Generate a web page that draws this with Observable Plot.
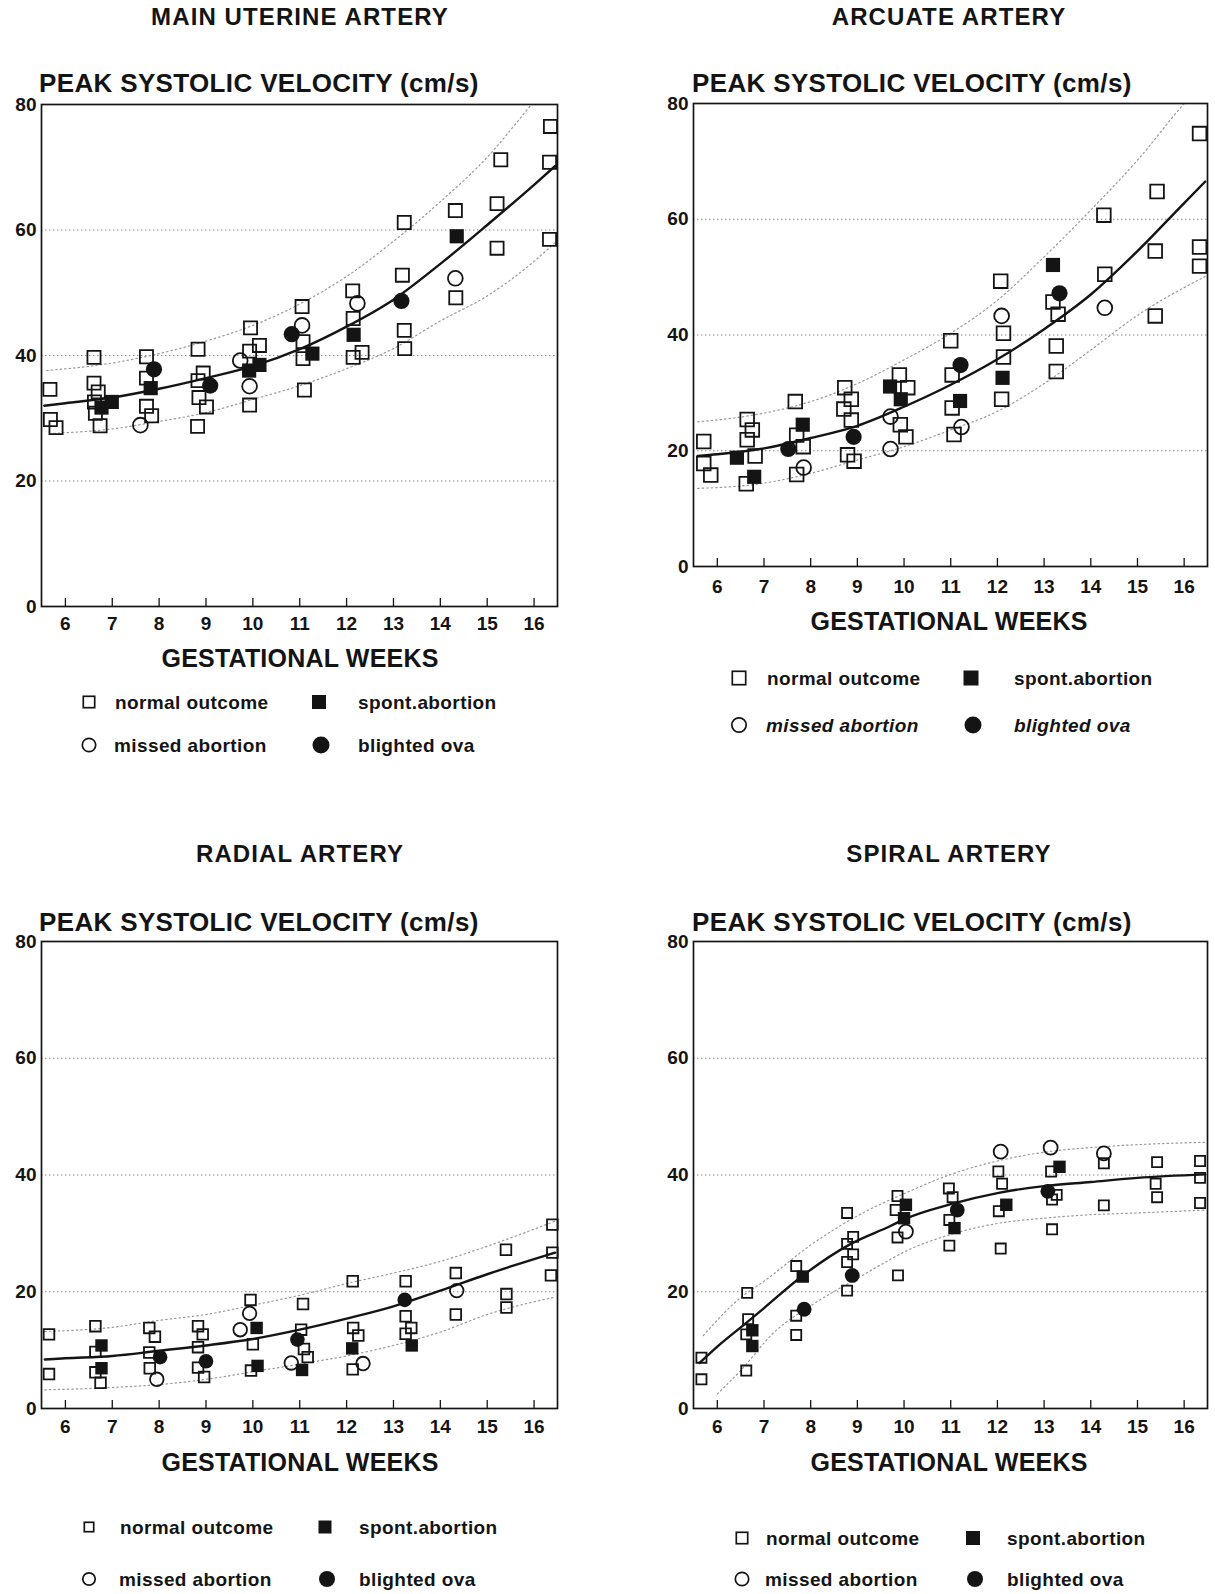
<!DOCTYPE html>
<html>
<head>
<meta charset="utf-8">
<script src="https://cdn.jsdelivr.net/npm/d3@7"></script>
<script src="https://cdn.jsdelivr.net/npm/@observablehq/plot@0.6"></script>
<style>
  html, body { margin: 0; padding: 0; background: #fff; }
  #page { position: relative; width: 1215px; height: 1594px; overflow: hidden;
          font-family: "Liberation Sans", Arial, Helvetica, sans-serif; font-weight: bold; color: #141414; }
  .t { position: absolute; white-space: nowrap; line-height: 1; }
  .c { transform: translate(-50%, -50%); }
  .l { transform: translateY(-50%); }
  .sym { position: absolute; transform: translate(-50%, -50%); }
  .plot { position: absolute; }
</style>
</head>
<body>
<div id="page"></div>
<script>
// ---------------- shared axis values ----------------
const weekTicks = [6, 7, 8, 9, 10, 11, 12, 13, 14, 15, 16];
const velocityTicks = [0, 20, 40, 60, 80];
const gridLines = [20, 40, 60];
const legendLabels = ["normal outcome", "spont.abortion", "missed abortion", "blighted ova"];
const yLabel = "PEAK SYSTOLIC VELOCITY (cm/s)";
const xLabel = "GESTATIONAL WEEKS";

// ---------------- MAIN UTERINE ARTERY ----------------
const uterineNormal = [[5.67,34.6],[5.68,29.8],[5.8,28.5],[6.61,39.7],[6.61,35.6],[6.7,34.2],[6.62,32.6],[6.64,30.8],[6.74,28.8],
  [7.73,39.8],[7.73,36.4],[7.73,31.9],[7.84,30.4],[8.83,41.0],[8.94,37.2],[8.83,36.0],[8.85,33.3],[9.01,31.8],[8.82,28.7],
  [9.95,44.4],[9.93,40.7],[10.14,41.6],[9.93,32.1],[11.05,47.8],[11.07,42.2],[11.07,39.5],[11.1,34.5],
  [12.13,50.3],[12.14,45.9],[12.14,39.7],[12.33,40.5],[13.23,61.2],[13.19,52.8],[13.23,44.0],[13.24,41.1],
  [14.32,63.1],[14.33,49.2],[15.29,71.2],[15.21,64.2],[15.21,57.1],[16.35,76.5],[16.33,70.8],[16.33,58.5]];
const uterineSpont = [[6.77,31.7],[6.99,32.6],[7.82,34.8],[9.92,37.6],[10.14,38.5],[11.27,40.3],[12.15,43.3],[14.35,59.0]];
const uterineMissed = [[7.6,28.9],[9.73,39.2],[9.93,35.1],[11.05,44.8],[12.23,48.3],[14.32,52.3]];
const uterineBlighted = [[7.89,37.8],[9.09,35.2],[10.83,43.4],[13.17,48.7]];
const uterineFit = [[5.55,32.0],[6,32.4],[7,33.3],[8,34.7],[9,36.4],[10,38.3],[11,41.0],[12,44.6],[13,48.9],[14,54.6],[15,60.8],[16,67.2],[16.45,70.2]];
const uterineUpper = [[5.6,37.6],[7,38.8],[8,40.3],[9,42.3],[10,44.8],[11,48.2],[12,52.6],[13,58.2],[14,64.5],[15,71.6],[16,80.5],[16.45,84.5]];
const uterineLower = [[5.75,27.6],[7,28.3],[8,29.5],[9,30.9],[10,33.0],[11,35.2],[12,37.9],[13,41.1],[14,45.5],[15,49.5],[16,55.0],[16.45,58.0]];

// ---------------- ARCUATE ARTERY ----------------
const arcuateNormal = [[5.71,21.6],[5.71,17.8],[5.86,15.8],[6.64,25.4],[6.75,23.6],[6.64,21.9],[6.81,19.1],[6.62,14.3],
  [7.67,28.5],[7.7,22.7],[7.84,20.7],[7.7,15.9],[8.73,30.9],[8.87,28.9],[8.71,27.2],[8.87,25.3],[8.79,19.3],[8.93,18.2],
  [9.9,33.1],[10.08,30.9],[9.92,24.5],[10.04,22.4],[11.0,39.0],[11.03,33.1],[11.03,27.4],[11.07,22.8],
  [12.07,49.3],[12.13,40.3],[12.13,36.2],[12.09,28.9],[13.19,45.7],[13.3,43.6],[13.26,38.1],[13.26,33.7],
  [14.28,60.7],[14.3,50.5],[15.42,64.8],[15.38,54.5],[15.38,43.3],[16.33,74.8],[16.33,55.2],[16.33,51.9]];
const arcuateSpont = [[6.42,18.8],[6.79,15.5],[7.83,24.5],[9.7,31.1],[9.93,28.9],[11.2,28.6],[12.11,32.6],[13.19,52.1]];
const arcuateMissed = [[7.85,17.1],[9.71,25.9],[9.71,20.3],[11.23,24.1],[12.09,43.3],[14.3,44.7]];
const arcuateBlighted = [[7.52,20.3],[8.92,22.4],[11.21,34.8],[13.33,47.2]];
const arcuateFit = [[5.58,19.1],[6,19.4],[7,20.4],[8,22.2],[9,24.3],[10,27.6],[11,31.4],[12,35.8],[13,41.0],[14,47.0],[15,54.5],[16,62.8],[16.45,66.5]];
const arcuateUpper = [[5.58,25.0],[7,26.5],[8,28.5],[9,31.6],[10,35.7],[11,40.3],[12,46.0],[13,53.5],[14,61.6],[15,70.2],[16,80.0],[16.45,84.0]];
const arcuateLower = [[5.58,13.5],[7,14.4],[8,16.1],[9,18.4],[10,20.7],[11,23.6],[12,26.8],[13,31.6],[14,37.4],[15,43.4],[16.45,50.1]];

// ---------------- RADIAL ARTERY ----------------
const radialNormal = [[5.65,12.7],[5.65,5.9],[6.64,14.1],[6.64,9.7],[6.64,6.2],[6.75,4.4],[7.79,13.8],[7.91,12.3],[7.79,9.6],[7.8,6.9],
  [8.83,14.1],[8.93,12.7],[8.83,10.5],[8.83,7.0],[8.96,5.4],[9.95,18.6],[10.0,11.0],[9.96,6.5],
  [11.07,17.9],[11.03,13.5],[11.09,10.2],[11.17,8.8],[12.13,21.8],[12.14,13.8],[12.25,12.5],[12.13,6.7],
  [13.26,21.8],[13.26,15.8],[13.38,13.8],[13.26,12.8],[14.33,23.2],[14.33,16.1],[15.4,27.2],[15.41,19.6],[15.41,17.3],
  [16.39,31.5],[16.39,26.7],[16.36,22.8]];
const radialSpont = [[6.77,10.8],[6.77,6.9],[10.08,13.8],[10.1,7.3],[11.05,6.6],[12.12,10.3],[13.39,10.8]];
const radialMissed = [[7.95,5.0],[9.73,13.5],[9.93,16.3],[10.82,7.8],[12.35,7.7],[14.35,20.2]];
const radialBlighted = [[8.02,8.8],[9.0,8.1],[10.95,11.8],[13.24,18.6]];
const radialFit = [[5.56,8.4],[6,8.6],[7,9.0],[8,9.9],[9,10.8],[10,11.9],[11,13.5],[12,15.4],[13,17.5],[14,20.2],[15,23.0],[16,25.6],[16.45,26.7]];
const radialUpper = [[5.56,13.2],[7,13.9],[8,15.1],[9,16.1],[10,17.7],[11,19.4],[12,21.4],[13,23.2],[14,25.2],[15,27.8],[16.45,32.1]];
const radialLower = [[5.56,3.2],[7,3.6],[8,4.1],[9,5.0],[10,6.3],[11,7.6],[12,9.0],[13,10.8],[14,13.1],[15,16.1],[16.45,19.1]];

// ---------------- SPIRAL ARTERY ----------------
const spiralNormal = [[5.66,8.7],[5.66,5.0],[6.64,19.8],[6.66,15.3],[6.62,12.7],[6.62,6.5],[7.69,24.4],[7.69,15.9],[7.69,12.6],
  [8.78,33.5],[8.91,29.4],[8.78,28.2],[8.91,26.4],[8.78,25.1],[8.78,20.2],[9.86,36.4],[9.82,34.0],[9.86,29.3],[9.87,22.8],
  [10.96,37.7],[11.04,36.2],[10.97,32.3],[10.97,27.9],[12.02,40.6],[12.1,38.5],[12.03,33.8],[12.07,27.4],
  [13.15,40.6],[13.27,36.6],[13.17,35.8],[13.17,30.7],[14.28,42.0],[14.28,34.8],[15.42,42.2],[15.39,38.5],[15.42,36.2],
  [16.34,42.4],[16.34,39.5],[16.34,35.2]];
const spiralSpont = [[6.75,13.4],[6.75,10.7],[7.83,22.6],[10.04,34.9],[10.0,32.6],[11.08,30.9],[12.19,34.9],[13.33,41.4]];
const spiralMissed = [[10.04,30.3],[12.07,44.0],[13.14,44.7],[14.28,43.7]];
const spiralBlighted = [[7.86,17.0],[8.89,22.8],[11.14,34.0],[13.08,37.2]];
const spiralFit = [[5.62,7.8],[6,10.6],[6.64,14.8],[7,17.2],[7.82,22.7],[8.86,28.2],[9.72,31.3],[10,32.4],[11,35.0],[12,36.9],[13,38.1],[14,38.8],[15,39.5],[16.45,40.1]];
const spiralUpper = [[5.7,12.5],[6.5,19.0],[7,21.8],[8,28.0],[9,33.0],[10,36.8],[11,40.1],[12,42.4],[13,43.9],[14,44.7],[15,45.2],[16.45,45.6]];
const spiralLower = [[6.0,2.5],[6.5,6.5],[7.21,13.0],[8,17.6],[9,22.3],[9.72,25.6],[10,26.8],[11,29.8],[12,31.7],[13,32.6],[14,33.2],[15,33.5],[16.45,34.0]];

// ---------------- layout (positions / styles only) ----------------
const panels = [
  { title: "MAIN UTERINE ARTERY", normal: uterineNormal, spont: uterineSpont, missed: uterineMissed, blighted: uterineBlighted,
    fit: uterineFit, upper: uterineUpper, lower: uterineLower,
    frame: {left: 41, top: 104, right: 557, bottom: 606}, titleY: 17, yLabelX: 39, yLabelY: 83, cx: 300, xLabelY: 658, tickPad: 18,
    sz: {sq: 7.4, fsq: 8.0, ci: 7.4, fci: 8.1},
    legend: {rows: [702, 745], sx1: 89, tx1: 115, sx2: 319, tx2: 358, lsq: 13, lfsq: 14, lci: 15, lfci: 17}, italic: false },
  { title: "ARCUATE ARTERY", normal: arcuateNormal, spont: arcuateSpont, missed: arcuateMissed, blighted: arcuateBlighted,
    fit: arcuateFit, upper: arcuateUpper, lower: arcuateLower,
    frame: {left: 693, top: 103, right: 1207, bottom: 566}, titleY: 17, yLabelX: 692, yLabelY: 83, cx: 949, xLabelY: 621, tickPad: 21,
    sz: {sq: 7.7, fsq: 8.0, ci: 7.4, fci: 8.1},
    legend: {rows: [678, 725], sx1: 739, tx1: 767, sx2: 971, tx2: 1014, lsq: 15, lfsq: 15, lci: 16, lfci: 17}, italic: true },
  { title: "RADIAL ARTERY", normal: radialNormal, spont: radialSpont, missed: radialMissed, blighted: radialBlighted,
    fit: radialFit, upper: radialUpper, lower: radialLower,
    frame: {left: 41, top: 941, right: 557, bottom: 1408}, titleY: 854, yLabelX: 39, yLabelY: 922, cx: 300, xLabelY: 1462, tickPad: 19,
    sz: {sq: 6.0, fsq: 7.0, ci: 6.8, fci: 7.3},
    legend: {rows: [1527, 1579], sx1: 89, tx1: 120, sx2: 325, tx2: 359, lsq: 11, lfsq: 13, lci: 14, lfci: 16}, italic: false },
  { title: "SPIRAL ARTERY", normal: spiralNormal, spont: spiralSpont, missed: spiralMissed, blighted: spiralBlighted,
    fit: spiralFit, upper: spiralUpper, lower: spiralLower,
    frame: {left: 693, top: 941, right: 1207, bottom: 1408}, titleY: 854, yLabelX: 692, yLabelY: 922, cx: 949, xLabelY: 1462, tickPad: 19,
    sz: {sq: 5.7, fsq: 7.0, ci: 7.0, fci: 7.4},
    legend: {rows: [1538, 1579], sx1: 742, tx1: 766, sx2: 973, tx2: 1007, lsq: 13, lfsq: 14, lci: 15, lfci: 16}, italic: false }
];

const INK = "#141414";
const page = document.getElementById("page");

function addText(txt, x, y, cls, size, extra = "") {
  const d = document.createElement("div");
  d.className = "t " + cls;
  d.textContent = txt;
  d.style.cssText = `left:${x}px;top:${y}px;font-size:${size}px;${extra}`;
  page.appendChild(d);
  return d;
}

function addSymbol(kind, x, y, s) {
  const pad = 2, w = s + pad * 2;
  const ns = "http://www.w3.org/2000/svg";
  const svg = document.createElementNS(ns, "svg");
  svg.setAttribute("width", w); svg.setAttribute("height", w);
  svg.setAttribute("class", "sym");
  svg.style.left = x + "px"; svg.style.top = y + "px";
  let el;
  if (kind === "sq" || kind === "fsq") {
    el = document.createElementNS(ns, "rect");
    el.setAttribute("x", pad + (kind === "sq" ? 0.8 : 0)); el.setAttribute("y", pad + (kind === "sq" ? 0.8 : 0));
    el.setAttribute("width", s - (kind === "sq" ? 1.6 : 0)); el.setAttribute("height", s - (kind === "sq" ? 1.6 : 0));
  } else {
    el = document.createElementNS(ns, "circle");
    el.setAttribute("cx", w / 2); el.setAttribute("cy", w / 2);
    el.setAttribute("r", s / 2 - (kind === "ci" ? 0.8 : 0));
  }
  if (kind === "sq" || kind === "ci") {
    el.setAttribute("fill", "none"); el.setAttribute("stroke", INK); el.setAttribute("stroke-width", 1.7);
  } else {
    el.setAttribute("fill", INK);
  }
  svg.appendChild(el);
  page.appendChild(svg);
}

const px = d => d[0], py = d => d[1];

for (const p of panels) {
  const mL = 40, mR = 12, mT = 12, mB = 36;
  const fw = p.frame.right - p.frame.left, fh = p.frame.bottom - p.frame.top;
  const chart = Plot.plot({
    width: fw + mL + mR,
    height: fh + mT + mB,
    marginLeft: mL, marginRight: mR, marginTop: mT, marginBottom: mB,
    style: {fontFamily: '"Liberation Sans", Arial, sans-serif', fontWeight: "bold", fontSize: "19px", color: INK, background: "transparent", overflow: "visible"},
    x: {domain: [5.49, 16.5]},
    y: {domain: [0, 80]},
    marks: [
      Plot.ruleY(gridLines, {stroke: "#8f8f8f", strokeWidth: 1.1, strokeDasharray: "1.5,2.5"}),
      Plot.line(p.upper, {x: px, y: py, curve: "monotone-x", stroke: "#9a9a9a", strokeWidth: 1.2, strokeDasharray: "1.5,3", clip: true}),
      Plot.line(p.lower, {x: px, y: py, curve: "monotone-x", stroke: "#9a9a9a", strokeWidth: 1.2, strokeDasharray: "1.5,3", clip: true}),
      Plot.line(p.fit, {x: px, y: py, curve: "monotone-x", stroke: INK, strokeWidth: 2.4, clip: true}),
      Plot.dot(p.normal, {x: px, y: py, symbol: "square", r: p.sz.sq, fill: "none", stroke: INK, strokeWidth: 1.8}),
      Plot.dot(p.missed, {x: px, y: py, symbol: "circle", r: p.sz.ci, fill: "none", stroke: INK, strokeWidth: 1.8}),
      Plot.dot(p.spont, {x: px, y: py, symbol: "square", r: p.sz.fsq, fill: INK, stroke: "none"}),
      Plot.dot(p.blighted, {x: px, y: py, symbol: "circle", r: p.sz.fci, fill: INK, stroke: "none"}),
      Plot.axisX(weekTicks, {tickSize: -8, tickPadding: p.tickPad, label: null, fontSize: 19, stroke: INK, strokeWidth: 1.3, tickFormat: d => String(d)}),
      Plot.axisY(velocityTicks, {tickSize: 0, tickPadding: 5, label: null, fontSize: 19, tickFormat: d => String(d)}),
      Plot.frame({stroke: INK, strokeWidth: 1.7})
    ]
  });
  chart.classList.add("plot");
  chart.style.left = (p.frame.left - mL) + "px";
  chart.style.top = (p.frame.top - mT) + "px";
  page.appendChild(chart);

  addText(p.title, p.cx, p.titleY, "c", 24, "letter-spacing:1.1px;");
  addText(yLabel, p.yLabelX, p.yLabelY, "l", 26, "letter-spacing:0.35px;");
  addText(xLabel, p.cx, p.xLabelY, "c", 25, "letter-spacing:0.2px;");

  const L = p.legend;
  const ital = p.italic ? "font-style:italic;" : "";
  addSymbol("sq", L.sx1, L.rows[0], L.lsq);
  addText(legendLabels[0], L.tx1, L.rows[0], "l", 19, "letter-spacing:0.4px;");
  addSymbol("fsq", L.sx2, L.rows[0], L.lfsq);
  addText(legendLabels[1], L.tx2, L.rows[0], "l", 19, "letter-spacing:0.4px;");
  addSymbol("ci", L.sx1, L.rows[1], L.lci);
  addText(legendLabels[2], L.tx1 - 1, L.rows[1], "l", 19, "letter-spacing:0.4px;" + ital);
  addSymbol("fci", L.sx2 + 2, L.rows[1], L.lfci);
  addText(legendLabels[3], L.tx2, L.rows[1], "l", 19, "letter-spacing:0.4px;" + ital);
}
</script>
</body>
</html>
